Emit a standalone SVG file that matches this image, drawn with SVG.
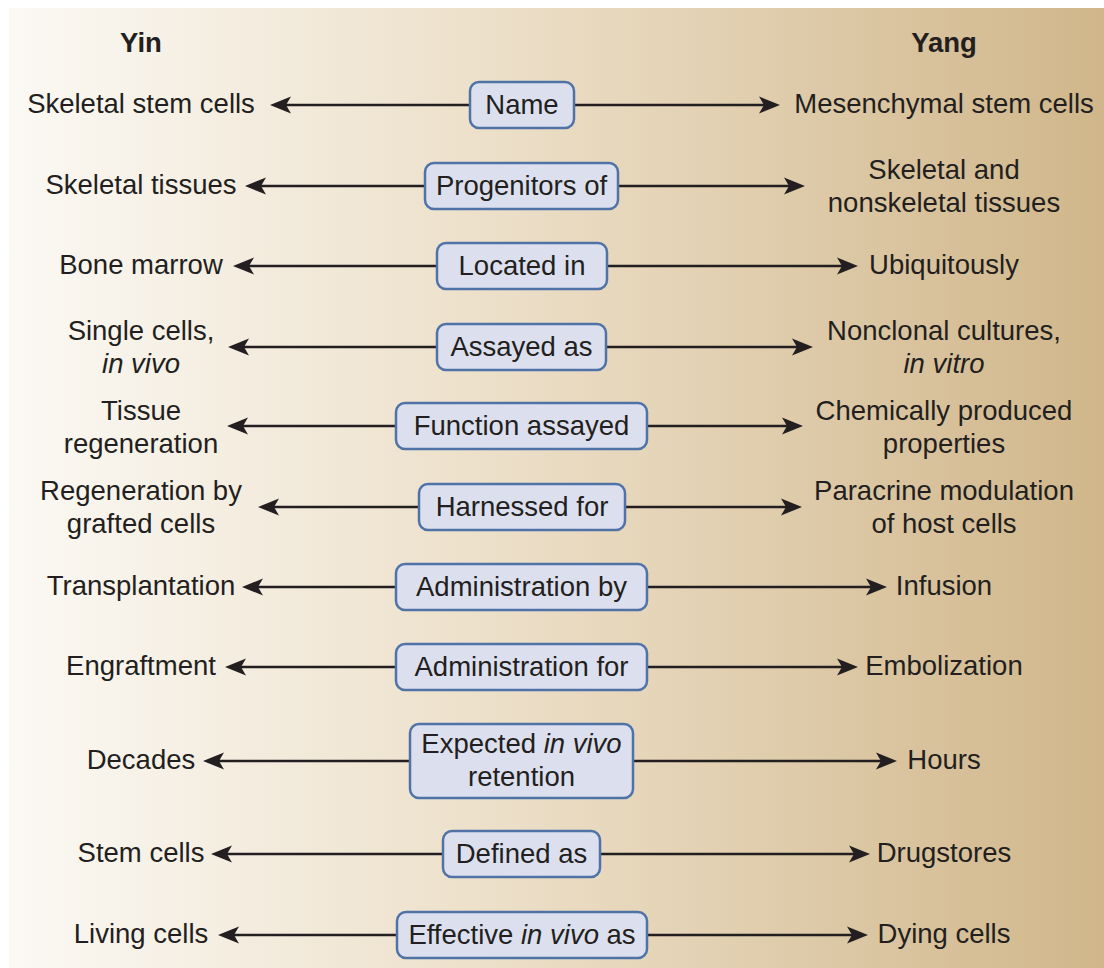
<svg xmlns="http://www.w3.org/2000/svg" width="1104" height="968" viewBox="0 0 1104 968">
<style>
text{font-family:"Liberation Sans",Arial,sans-serif;font-size:27.5px;fill:#231f20;text-anchor:middle}
.h{font-weight:bold}
.i{font-style:italic}
.box{fill:#dce0ee;stroke:#4f72a7;stroke-width:2.5}
.ln{stroke:#231f20;stroke-width:2.7;fill:none;marker-end:url(#ah)}
</style>
<defs>
<linearGradient id="bg" x1="0" y1="0" x2="1" y2="0">
<stop offset="0" stop-color="#fbf9f4"/>
<stop offset="0.45" stop-color="#ecdfc8"/>
<stop offset="1" stop-color="#d0b68a"/>
</linearGradient>
<marker id="ah" markerUnits="userSpaceOnUse" viewBox="0 -9 21 18" refX="10" refY="0" markerWidth="21" markerHeight="18" orient="auto">
<path d="M21,0 L0,-8.5 L5,0 L0,8.5 Z" fill="#231f20"/>
</marker>
</defs>
<rect x="9" y="8" width="1095" height="960" fill="url(#bg)"/>
<text class="h" x="141" y="52">Yin</text>
<text class="h" x="944" y="52">Yang</text>
<g id="connectors">
<path class="ln" d="M470,105 H281"/><path class="ln" d="M574,105 H769"/>
<path class="ln" d="M425,186 H256"/><path class="ln" d="M618,186 H794"/>
<path class="ln" d="M437,266 H244"/><path class="ln" d="M607,266 H847"/>
<path class="ln" d="M437,347 H239"/><path class="ln" d="M606,347 H802"/>
<path class="ln" d="M396,426 H238"/><path class="ln" d="M647,426 H792"/>
<path class="ln" d="M419,507 H269"/><path class="ln" d="M625,507 H791"/>
<path class="ln" d="M396,587 H253"/><path class="ln" d="M647,587 H876"/>
<path class="ln" d="M396,667 H236"/><path class="ln" d="M647,667 H847"/>
<path class="ln" d="M410,761 H214"/><path class="ln" d="M633,761 H886"/>
<path class="ln" d="M443,854 H222"/><path class="ln" d="M600,854 H859"/>
<path class="ln" d="M397,935 H229"/><path class="ln" d="M647,935 H857"/>
</g>
<g id="row1">
<rect class="box" x="470" y="82" width="104" height="46" rx="9"/>
<text x="522" y="114">Name</text>
<text x="141" y="113">Skeletal stem cells</text>
<text x="944" y="113">Mesenchymal stem cells</text>
</g>
<g id="row2">
<rect class="box" x="425" y="163" width="193" height="46" rx="9"/>
<text x="521.5" y="195">Progenitors of</text>
<text x="141" y="194">Skeletal tissues</text>
<text x="944" y="179">Skeletal and</text>
<text x="944" y="212">nonskeletal tissues</text>
</g>
<g id="row3">
<rect class="box" x="437" y="243" width="170" height="46" rx="9"/>
<text x="522" y="275">Located in</text>
<text x="141" y="274">Bone marrow</text>
<text x="944" y="274">Ubiquitously</text>
</g>
<g id="row4">
<rect class="box" x="437" y="324" width="169" height="46" rx="9"/>
<text x="521.5" y="356">Assayed as</text>
<text x="141" y="340">Single cells,</text>
<text class="i" x="141" y="373">in vivo</text>
<text x="944" y="340">Nonclonal cultures,</text>
<text class="i" x="944" y="373">in vitro</text>
</g>
<g id="row5">
<rect class="box" x="396" y="403" width="251" height="46" rx="9"/>
<text x="521.5" y="435">Function assayed</text>
<text x="141" y="420">Tissue</text>
<text x="141" y="453">regeneration</text>
<text x="944" y="420">Chemically produced</text>
<text x="944" y="453">properties</text>
</g>
<g id="row6">
<rect class="box" x="419" y="484" width="206" height="46" rx="9"/>
<text x="522" y="516">Harnessed for</text>
<text x="141" y="500">Regeneration by</text>
<text x="141" y="533">grafted cells</text>
<text x="944" y="500">Paracrine modulation</text>
<text x="944" y="533">of host cells</text>
</g>
<g id="row7">
<rect class="box" x="396" y="564" width="251" height="46" rx="9"/>
<text x="521.5" y="596">Administration by</text>
<text x="141" y="595">Transplantation</text>
<text x="944" y="595">Infusion</text>
</g>
<g id="row8">
<rect class="box" x="396" y="644" width="251" height="46" rx="9"/>
<text x="521.5" y="676">Administration for</text>
<text x="141" y="675">Engraftment</text>
<text x="944" y="675">Embolization</text>
</g>
<g id="row9">
<rect class="box" x="410" y="724" width="223" height="74" rx="9"/>
<text x="521.5" y="753">Expected <tspan class="i">in vivo</tspan></text>
<text x="521.5" y="786">retention</text>
<text x="141" y="769">Decades</text>
<text x="944" y="769">Hours</text>
</g>
<g id="row10">
<rect class="box" x="443" y="831" width="157" height="46" rx="9"/>
<text x="521.5" y="863">Defined as</text>
<text x="141" y="862">Stem cells</text>
<text x="944" y="862">Drugstores</text>
</g>
<g id="row11">
<rect class="box" x="397" y="912" width="250" height="46" rx="9"/>
<text x="522" y="944">Effective <tspan class="i">in vivo</tspan> as</text>
<text x="141" y="943">Living cells</text>
<text x="944" y="943">Dying cells</text>
</g>
</svg>
